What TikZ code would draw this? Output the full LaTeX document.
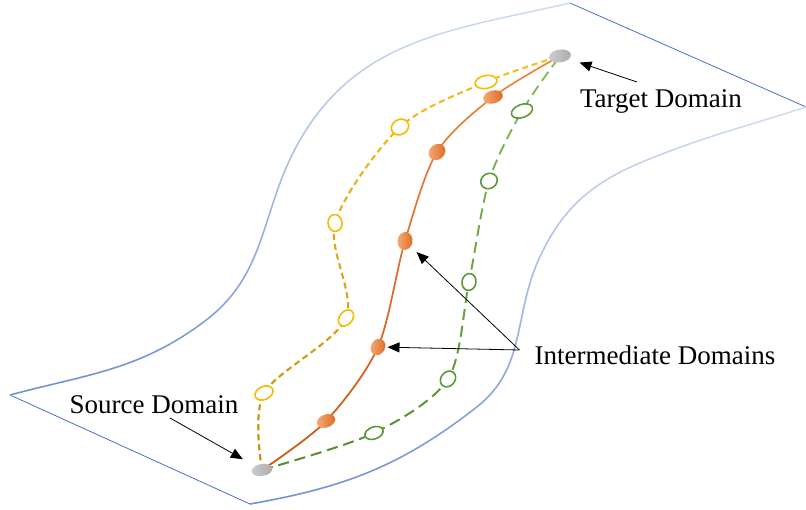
\documentclass[tikz,border=0pt]{standalone}
\usepackage{fontspec}
\setmainfont{Liberation Serif}
\usetikzlibrary{arrows.meta,shapes.geometric,backgrounds,fadings}
\definecolor{planeblue}{RGB}{68,114,196}
\definecolor{sheetblue}{RGB}{110,146,212}
\definecolor{sheetpale}{RGB}{208,220,242}
\definecolor{goldline}{RGB}{250,190,20}
\definecolor{golddeep}{RGB}{190,145,30}
\definecolor{goldring}{RGB}{245,188,0}
\definecolor{leafline}{RGB}{130,190,90}
\definecolor{leafdeep}{RGB}{84,140,50}
\definecolor{leafring}{RGB}{94,152,58}
\definecolor{rustline}{RGB}{240,130,60}
\definecolor{rustdeep}{RGB}{200,92,24}
\definecolor{rustlight}{RGB}{245,172,120}
\definecolor{rustdark}{RGB}{222,104,34}

\begin{document}
\begin{tikzpicture}[x=1pt,y=1pt,
  flat edge/.style={draw=planeblue,line width=0.8pt},
  bent edge/.style={line width=1.5pt},
  pointer/.style={-{Triangle[length=12pt,width=10pt]},line width=0.8pt,black},
  end dot/.style={ellipse,inner sep=0pt,minimum width=21pt,minimum height=12pt,left color=gray!40,right color=gray!65},
  path dot/.style={ellipse,inner sep=0pt,minimum width=18pt,minimum height=14pt,left color=rustlight,right color=rustdark},
  gold ring/.style={ellipse,inner sep=0pt,minimum width=18pt,minimum height=14pt,draw=goldring,line width=1.6pt,fill=white},
  leaf ring/.style={ellipse,inner sep=0pt,minimum width=18pt,minimum height=14pt,draw=leafring,line width=1.6pt,fill=white},
  gold dash/.style={line width=2pt,dash pattern=on 6pt off 4pt},
  leaf dash/.style={line width=1.8pt,dash pattern=on 11pt off 6pt},
  tag/.style={font=\fontsize{27}{32}\selectfont,anchor=base,inner sep=0pt}]

  \useasboundingbox (0,0) rectangle (806,510);

  % source and target
  \node[end dot,rotate=10] (src) at (262,40) {};
  \node[end dot,rotate=8,minimum width=22pt,minimum height=13pt] (tgt) at (560,454) {};

  % yellow route
  \node[gold ring,rotate=25,minimum width=19pt,minimum height=13pt] (y1) at (264,117) {};
  \node[gold ring,rotate=50,minimum height=13pt] (y2) at (346,192) {};
  \node[gold ring,rotate=95,minimum width=17pt] (y3) at (335,287) {};
  \node[gold ring,rotate=30,minimum height=15pt] (y4) at (400,383) {};
  \node[gold ring,rotate=10,minimum width=22pt,minimum height=13pt] (y5) at (486,428) {};

  % orange route
  \node[path dot,rotate=20,minimum width=19pt,minimum height=13pt] (o1) at (326,89) {};
  \node[path dot,rotate=60,minimum width=17pt] (o2) at (378,163) {};
  \node[path dot,rotate=80,minimum height=15pt] (o3) at (405,269) {};
  \node[path dot,rotate=40,minimum height=15pt] (o4) at (437,358) {};
  \node[path dot,rotate=15,minimum width=20pt,minimum height=13pt] (o5) at (493,413) {};

  % green route
  \node[leaf ring,rotate=20,minimum width=19pt,minimum height=12pt] (g1) at (374,77) {};
  \node[leaf ring,rotate=50,minimum width=17pt] (g2) at (448,131) {};
  \node[leaf ring,rotate=80,minimum width=17pt] (g3) at (469,228) {};
  \node[leaf ring,rotate=30,minimum width=17pt,minimum height=15pt] (g4) at (489,329) {};
  \node[leaf ring,rotate=20,minimum width=22pt,minimum height=13pt] (g5) at (522,399) {};

  \node[tag] (srclab) at (154,96) {Source Domain};
  \node[tag] (tgtlab) at (661,402) {Target Domain};
  \node[tag] (midlab) at (655,145) {Intermediate Domains};

  \begin{scope}[on background layer]
    % the sheet
    \coordinate (L) at (10,115);
    \coordinate (B) at (250,6);
    \coordinate (T) at (570,507);
    \coordinate (R) at (806,403);
    \draw[flat edge] (L) -- (B);
    \draw[flat edge] (T) -- (R);
    \draw[bent edge,draw=sheetpale] (L) to[out=15,in=217] (205,189) to[out=37,in=240] (300,370) to[out=60,in=193] (T);
    \draw[bent edge,draw=sheetblue,path fading=north] (L) to[out=15,in=217] (205,189) to[out=37,in=240] (300,370) to[out=60,in=193] (T);
    \draw[bent edge,draw=sheetpale] (R) to[out=198,in=22] (647,350) to[out=202,in=65] (540,253) to[out=245,in=38] (477,103) to[out=218,in=10] (B);
    \draw[bent edge,draw=sheetblue,path fading=north] (R) to[out=198,in=22] (647,350) to[out=202,in=65] (540,253) to[out=245,in=38] (477,103) to[out=218,in=10] (B);

    % the three routes, darker towards the source
    \draw[gold dash,goldline] plot[smooth,tension=0.5] coordinates {(src.center) (y1.center) (y2.center) (y3.center) (y4.center) (y5.center) (tgt.center)};
    \draw[gold dash,golddeep,path fading=north] plot[smooth,tension=0.5] coordinates {(src.center) (y1.center) (y2.center) (y3.center) (y4.center) (y5.center) (tgt.center)};
    \draw[rustline,line width=1.6pt] plot[smooth,tension=0.5] coordinates {(src.center) (o1.center) (o2.center) (o3.center) (o4.center) (o5.center) (tgt.center)};
    \draw[rustdeep,line width=1.6pt,path fading=north] plot[smooth,tension=0.5] coordinates {(src.center) (o1.center) (o2.center) (o3.center) (o4.center) (o5.center) (tgt.center)};
    \draw[leaf dash,leafline] plot[smooth,tension=0.5] coordinates {(src.center) (g1.center) (g2.center) (g3.center) (g4.center) (g5.center) (tgt.center)};
    \draw[leaf dash,leafdeep,path fading=north] plot[smooth,tension=0.5] coordinates {(src.center) (g1.center) (g2.center) (g3.center) (g4.center) (g5.center) (tgt.center)};
  \end{scope}

  \draw[pointer,shorten >=14pt] ([xshift=16pt,yshift=-4pt]srclab.base) -- (src);
  \draw[pointer,shorten >=11pt] ([xshift=-24pt,yshift=26pt]tgtlab.base) -- (tgt);
  \draw[pointer,shorten >=8pt] ([xshift=-15pt,yshift=15pt]midlab.base west) -- (o3);
  \draw[pointer,shorten >=2pt] ([xshift=-15pt,yshift=15pt]midlab.base west) -- (o2);
\end{tikzpicture}
\end{document}
